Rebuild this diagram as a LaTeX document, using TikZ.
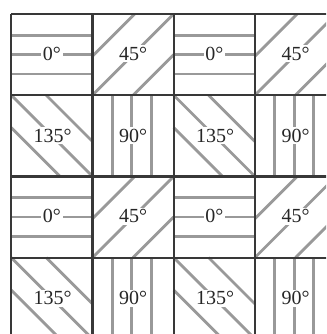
\documentclass[tikz,border=0pt]{standalone}
\usepackage{fontspec}
\setmainfont{Liberation Serif}
\begin{document}
\begin{tikzpicture}[x=1pt,y=-1pt,
  gridline/.style={draw=black!78, line width=2.2pt},
  stripe/.style={draw=black!40, line width=2.8pt},
  lab/.style={fill=white, inner sep=1.6pt, text=black!85, font=\fontsize{20}{20}\selectfont}]
\useasboundingbox (0,0) rectangle (326,334);
\fill[white] (0,0) rectangle (326,334);
\clip (0,0) rectangle (326,334);
\def\s{81.2}
\def\xo{11.3}
\def\yo{14}
\foreach \r in {0,...,3}{
  \foreach \c in {0,...,3}{
    \pgfmathsetmacro{\X}{\xo+\c*\s}
    \pgfmathsetmacro{\Y}{\yo+\r*\s}
    \pgfmathtruncatemacro{\rp}{mod(\r,2)}
    \pgfmathtruncatemacro{\cp}{mod(\c,2)}
    \ifnum\rp=0
      \ifnum\cp=0
        % 0 degrees
        \foreach \f in {0.26,0.5,0.74}{
          \draw[stripe] (\X,\Y+\f*\s) -- (\X+\s,\Y+\f*\s);}
        \node[lab] (lab\r\c) at (\X+0.5*\s,\Y+0.49*\s) {0°};
      \else
        % 45 degrees
        \draw[stripe] (\X,\Y+\s) -- (\X+\s,\Y);
        \draw[stripe] (\X,\Y+0.52*\s) -- (\X+0.52*\s,\Y);
        \draw[stripe] (\X+0.5*\s,\Y+\s) -- (\X+\s,\Y+0.5*\s);
        \node[lab] (lab\r\c) at (\X+0.5*\s,\Y+0.49*\s) {45°};
      \fi
    \else
      \ifnum\cp=0
        % 135 degrees
        \draw[stripe] (\X,\Y) -- (\X+\s,\Y+\s);
        \draw[stripe] (\X+0.43*\s,\Y) -- (\X+\s,\Y+0.57*\s);
        \draw[stripe] (\X,\Y+0.4*\s) -- (\X+0.6*\s,\Y+\s);
        \node[lab] (lab\r\c) at (\X+0.51*\s,\Y+0.5*\s) {135°};
      \else
        % 90 degrees
        \foreach \f in {0.245,0.485,0.725}{
          \draw[stripe] (\X+\f*\s,\Y) -- (\X+\f*\s,\Y+\s);}
        \node[lab] (lab\r\c) at (\X+0.5*\s,\Y+0.5*\s) {90°};
      \fi
    \fi
  }
}
\foreach \i in {0,...,4}{
  \draw[gridline] (\xo+\i*\s,\yo) -- (\xo+\i*\s,\yo+4*\s);
  \draw[gridline] (\xo,\yo+\i*\s) -- (\xo+4*\s,\yo+\i*\s);
}
\end{tikzpicture}
\end{document}
